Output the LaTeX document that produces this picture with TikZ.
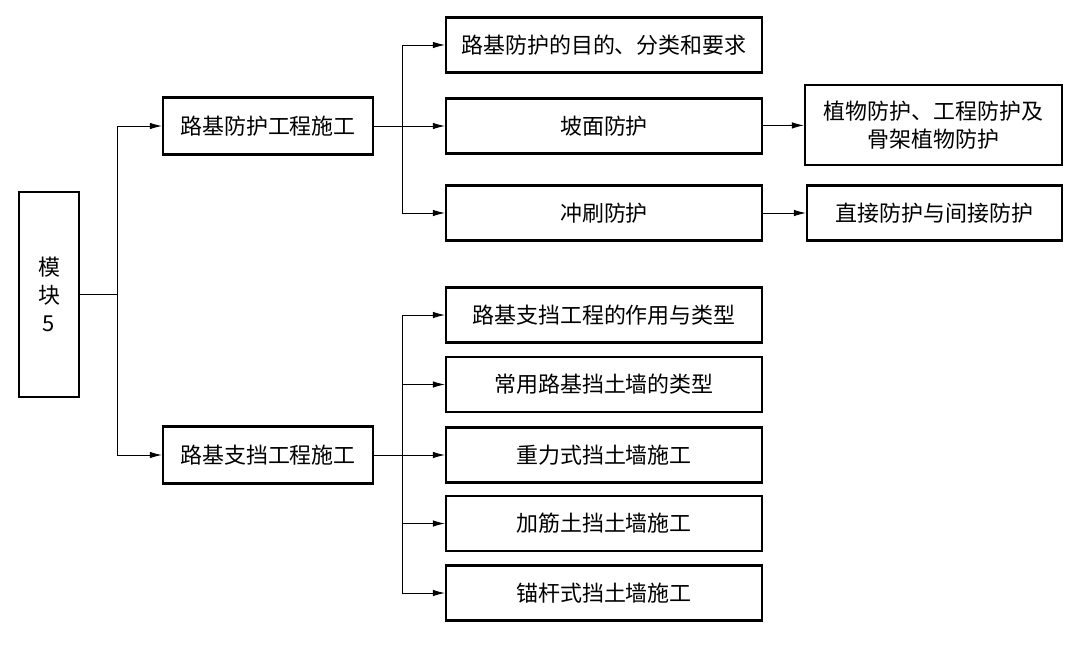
\documentclass[tikz,border=0pt]{standalone}
\usepackage{fontspec}
\setmainfont{Noto Sans CJK SC}
\usepackage{tikz}
\usetikzlibrary{arrows.meta,positioning,calc}
\tikzset{
  box/.style  = {draw, line width=1.3pt, rectangle, inner sep=2pt,
                 align=center, font=\fontsize{12.5pt}{16pt}\selectfont},
  wbox/.style = {box, minimum width=6.32cm, minimum height=1.1cm},
  sig/.style  = {-{Latex[length=2.4mm,width=1.3mm]}, line width=0.5pt},
  link/.style = {line width=0.5pt},
}
\begin{document}
\begin{tikzpicture}[x=0.02cm,y=-0.02cm]
\useasboundingbox (0,0) rectangle (1085,646);
% root and the two main parts
\node[box,minimum width=1.2cm,minimum height=4.1cm,font=\fontsize{12.5pt}{16pt}\selectfont] (root) at (49,294.5) {模\\块\\5};
\node[box,minimum width=4.2cm,minimum height=1.14cm] (prot) at (268,126) {路基防护工程施工};
\node[box,minimum width=4.2cm,minimum height=1.14cm] (supp) at (268,455) {路基支挡工程施工};
\coordinate (j0) at (117,294.5);
\draw[link] (root) -- (j0);
\draw[sig] (j0) |- (prot);
\draw[sig] (j0) |- (supp);
% protection branch
\node[wbox] (aim)   at (604,45)  {路基防护的目的、分类和要求};
\node[wbox] (slope) at (604,126) {坡面防护};
\node[wbox] (scour) at (604,213) {冲刷防护};
\node[box,minimum width=5.14cm,minimum height=1.6cm] (plant) at (933.5,125) {植物防护、工程防护及\\骨架植物防护};
\node[box,minimum width=5.1cm,minimum height=1.1cm] (dirt) at (934.5,213) {直接防护与间接防护};
\coordinate (j1) at (402,126);
\draw[link] (prot) -- (j1);
\foreach \n in {aim,slope,scour}
  \draw[sig] (j1) |- (\n);
\draw[sig] (slope) -- (plant);
\draw[sig] (scour) -- (dirt);
% retaining branch
\node[wbox] (role)    at (604,315) {路基支挡工程的作用与类型};
\node[wbox] (kinds)   at (604,384.5) {常用路基挡土墙的类型};
\node[wbox] (gravity) at (604,455) {重力式挡土墙施工};
\node[wbox] (reinf)   at (604,523.5) {加筋土挡土墙施工};
\node[wbox] (anchor)  at (604,593) {锚杆式挡土墙施工};
\coordinate (j2) at (402,455);
\draw[link] (supp) -- (j2);
\foreach \n in {role,kinds,gravity,reinf,anchor}
  \draw[sig] (j2) |- (\n);
\end{tikzpicture}
\end{document}
